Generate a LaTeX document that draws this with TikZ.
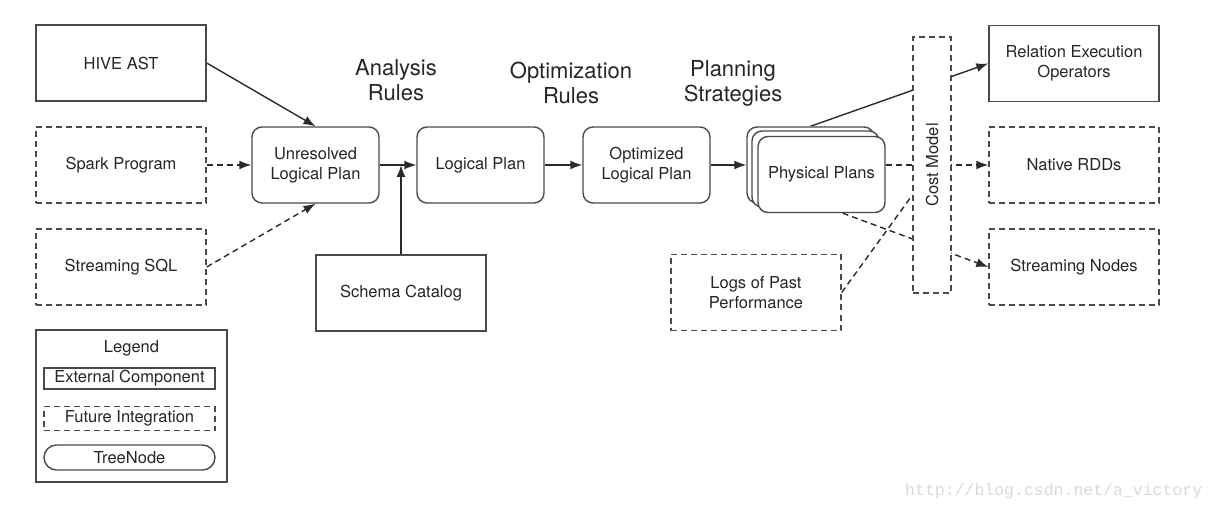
\documentclass[tikz,border=0pt]{standalone}
\usepackage{fontspec}
\setmainfont{TeX Gyre Heros}
\newfontfamily\wmfont{Liberation Mono}
\usetikzlibrary{arrows.meta,calc,shapes.misc}
\pgfdeclarelayer{bg}
\pgfsetlayers{bg,main}
\definecolor{edgec}{HTML}{2A2A2A}
\definecolor{boxc}{HTML}{4A4A4A}
\definecolor{txtc}{HTML}{262626}
\tikzset{
  every node/.style={font=\fontsize{16.5}{20}\selectfont, text=txtc, align=center, inner sep=0pt},
  extbox/.style={draw=boxc, line width=1.4pt, fill=white, minimum width=170pt, minimum height=76pt},
  futbox/.style={extbox, dash pattern=on 6pt off 4pt},
  treebox/.style={draw=boxc, line width=1.4pt, fill=white, rounded corners=10pt, minimum width=127pt, minimum height=76pt},
  heading/.style={font=\fontsize{22}{25}\selectfont},
  arr/.style={draw=edgec, line width=1.4pt, -{Latex[length=12pt,width=9pt]}},
  dasharr/.style={arr, dash pattern=on 6pt off 4pt},
  dashline/.style={draw=edgec, line width=1.4pt, dash pattern=on 6pt off 4pt},
}
\begin{document}
\begin{tikzpicture}[x=1pt,y=-1pt]
\useasboundingbox (0,0) rectangle (1217,510);
% inputs
\node[extbox] (hive) at (121,63) {HIVE AST};
\node[futbox] (spark) at (121,165) {Spark Program};
\node[futbox] (sql) at (121,267) {Streaming SQL};
% plans
\node[treebox] (unres) at (315.5,165) {Unresolved\\Logical Plan};
\node[treebox] (logical) at (480.5,165) {Logical Plan};
\node[treebox] (optim) at (646.5,165) {Optimized\\Logical Plan};
\node[treebox] (pb) at (810.5,165) {};
\node[treebox] (pm) at (815.5,169) {};
\node[treebox] (pf) at (821.5,174.5) {Physical Plans};
\node[extbox] (schema) at (401,293) {Schema Catalog};
\node[futbox] (logs) at (756,292.5) {Logs of Past\\Performance};
% headings
\node[heading] (h1) at (396,80.5) {Analysis\\Rules};
\node[heading] (h2) at (571,83) {Optimization\\Rules};
\node[heading] (h3) at (733,83) {Planning\\Strategies};
% cost model
\node[draw=boxc, line width=1.4pt, fill=white, dash pattern=on 6pt off 4pt, minimum width=38pt, minimum height=256pt] (cost) at (932,165) {};
\node[rotate=90] (costtxt) at (cost.center) {Cost Model};
% outputs
\node[extbox] (rel) at (1074,63.5) {Relation Execution\\Operators};
\node[futbox] (rdd) at (1074,165) {Native RDDs};
\node[futbox] (stream) at (1074,267) {Streaming Nodes};
% legend
\node[draw=boxc, line width=1.4pt, fill=white, minimum width=191pt, minimum height=152pt] (legend) at (131.5,406) {};
\node (legtitle) at (131.5,348) {Legend};
\node[draw=boxc, line width=1.4pt, minimum width=171pt, minimum height=21pt] (legext) at (129.5,378.5) {External Component};
\node[draw=boxc, line width=1.4pt, dash pattern=on 6pt off 4pt, minimum width=171pt, minimum height=24pt] (legfut) at (129.5,418.5) {Future Integration};
\node[draw=boxc, line width=1.4pt, rounded rectangle, minimum width=171pt, minimum height=25pt] (legtree) at (129.5,457.5) {TreeNode};
% watermark
\node[anchor=west, font=\wmfont\fontsize{16.5}{20}\selectfont, text=black!15] (wm) at (905,491) {http://blog.csdn.net/a\_victory};
% edges
\begin{pgfonlayer}{bg}
\draw[arr] (hive.east) -- (unres.north);
\draw[dasharr] (spark.east) -- (unres.west);
\draw[dasharr] (sql.east) -- (unres.south);
\draw[arr] (unres.east) -- (logical.west);
\draw[arr] (schema.north) -- (schema.north |- unres.east);
\draw[arr] (logical.east) -- (optim.west);
\draw[arr] (optim.east) -- (pb.west);
\draw[arr] (pb.north) -- (rel.west);
\draw[dasharr] (pf.east |- rdd.west) -- (rdd.west);
\draw[dasharr] ($(pf.south)!0.33!(pf.south east)$) -- (stream.west);
\coordinate (logend) at ($(cost.south west)!0.383!(cost.north west)$);
\draw[dashline] (logs.east) -- (logend);
\end{pgfonlayer}
\end{tikzpicture}
\end{document}
